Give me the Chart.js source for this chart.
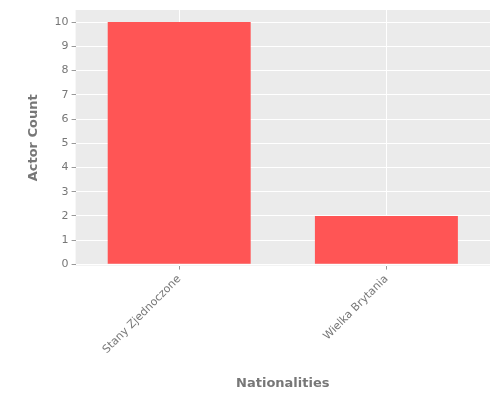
<!DOCTYPE html>
<html>
<head>
<meta charset="utf-8">
<script src="https://cdn.jsdelivr.net/npm/chart.js@4/dist/chart.umd.min.js"></script>
<style>
  body { margin: 0; background: #fff; }
  #wrap { width: 500px; height: 400px; }
</style>
</head>
<body>
<div id="wrap"><canvas id="chart"></canvas></div>
<script>
const nationalities = ['Stany Zjednoczone', 'Wielka Brytania'];
const actorCounts = [10, 2];
const yTicks = [0, 1, 2, 3, 4, 5, 6, 7, 8, 9, 10];

// grey panel behind the plot, ggplot style
const panelBg = {
  id: 'panelBg',
  beforeDraw(chart) {
    const { ctx, chartArea: a } = chart;
    ctx.save();
    ctx.fillStyle = '#EBEBEB';
    ctx.fillRect(a.left, a.top, a.right - a.left, a.bottom - a.top);
    ctx.restore();
  }
};

Chart.defaults.font.family = 'DejaVu Sans';

new Chart(document.getElementById('chart'), {
  type: 'bar',
  data: {
    labels: nationalities,
    datasets: [{
      data: actorCounts,
      backgroundColor: '#FF5555',
      barPercentage: 0.69,
      categoryPercentage: 1
    }]
  },
  options: {
    responsive: true,
    maintainAspectRatio: false,
    animation: false,
    layout: { padding: { top: 10, right: 10, left: 22, bottom: 5 } },
    plugins: { legend: { display: false }, tooltip: { enabled: false } },
    scales: {
      x: {
        grid: { color: '#fff', lineWidth: 1, offset: false, tickColor: '#999', tickLength: 4 },
        border: { display: false },
        ticks: { color: '#777', font: { size: 11 }, maxRotation: 45, minRotation: 45 },
        title: { display: true, text: 'Nationalities', color: '#777', font: { size: 13, weight: 'bold' }, padding: { top: 16 } }
      },
      y: {
        min: -0.05, max: 10.5,
        afterBuildTicks: axis => { axis.ticks = yTicks.map(v => ({ value: v })); },
        grid: { color: '#fff', lineWidth: 1, tickColor: '#999', tickLength: 4 },
        border: { display: false },
        ticks: { color: '#777', font: { size: 11 } },
        title: { display: true, text: 'Actor Count', color: '#777', font: { size: 13, weight: 'bold' }, padding: { bottom: 10 } }
      }
    }
  },
  plugins: [panelBg]
});
</script>
</body>
</html>
